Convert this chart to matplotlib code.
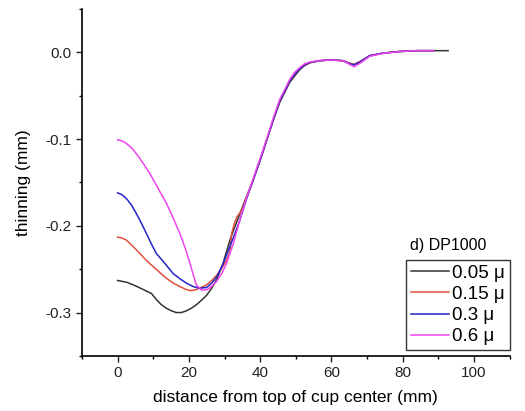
import matplotlib
matplotlib.use("Agg")
import matplotlib.pyplot as plt
from matplotlib.ticker import MultipleLocator

plt.rcParams['font.family'] = ['Liberation Sans', 'DejaVu Sans']

labels = ["0.05 μ", "0.15 μ", "0.3 μ", "0.6 μ"]
colors = ["#333333", "#e0503c", "#2424c8", "#ee44ee"]

x_005 = [0, 2.5, 4.4, 7, 9.5, 10.9, 12.3, 13.7, 15.1, 16.5, 17.9, 19.3, 20.7, 22.1, 23.5, 25, 26.4, 27.8, 29.6,
         31.5, 33, 34.3, 36, 38, 40, 41.8, 43.5, 45.5, 47, 48.3, 49.7, 51.1, 52.5, 54, 56.7, 58.5, 60.5, 63.3,
         64.7, 66.3, 68, 70.7, 74.5, 79, 83.8, 88.5, 92.7]
y_005 = [-0.263, -0.265, -0.268, -0.273, -0.278, -0.285, -0.291, -0.295, -0.298, -0.300, -0.300, -0.298, -0.295,
         -0.291, -0.286, -0.280, -0.272, -0.262, -0.243, -0.2165, -0.200, -0.186, -0.168, -0.1475, -0.124, -0.1015,
         -0.080, -0.0575, -0.045, -0.0345, -0.027, -0.020, -0.015, -0.012, -0.0096, -0.009, -0.0088, -0.0096,
         -0.012, -0.014, -0.0107, -0.0038, -0.0008, 0.001, 0.002, 0.002, 0.002]

x_015 = [0, 1.2, 2.5, 4.4, 6.3, 8.1, 10, 11.9, 13.7, 15.6, 17.5, 19, 20.3, 21.7, 23, 25, 26.4, 27.8, 29.2, 30.6,
         31.5, 32, 32.7, 33.4, 34.3, 35.3, 36, 38, 40, 41.8, 43.5, 45.5, 47, 48.3, 49.7, 51.1, 52.5, 54, 56.7,
         58.5, 60.5, 63.3, 64.7, 66.3, 68, 70.7, 74.5, 79, 83.8, 88.5]
y_015 = [-0.213, -0.214, -0.2165, -0.224, -0.232, -0.240, -0.247, -0.254, -0.2605, -0.266, -0.270, -0.273,
         -0.2747, -0.274, -0.272, -0.268, -0.263, -0.257, -0.249, -0.2395, -0.230, -0.209, -0.198, -0.190,
         -0.185, -0.178, -0.170, -0.1475, -0.124, -0.1015, -0.080, -0.0556, -0.044, -0.0326, -0.025, -0.019,
         -0.014, -0.0115, -0.0096, -0.009, -0.0088, -0.0096, -0.012, -0.014, -0.0107, -0.0038, -0.0008, 0.001,
         0.002, 0.002]

x_03 = [0, 1.2, 2.5, 3.9, 5.3, 6.7, 8.1, 9.5, 10.9, 12.8, 14.2, 15.6, 17.5, 19.3, 21.2, 23, 25, 26.4, 27.8, 29.6,
        31.5, 32.9, 34.3, 36, 38, 40, 41.8, 43.5, 45.5, 47, 48.3, 49.7, 51.1, 52.5, 54, 56.7, 58.5, 60.5, 63.3,
        64.7, 66.3, 68, 70.7, 74.5, 79, 83.8, 88.5]
y_03 = [-0.162, -0.164, -0.1686, -0.176, -0.186, -0.197, -0.209, -0.221, -0.232, -0.241, -0.248, -0.255, -0.261,
        -0.266, -0.270, -0.272, -0.271, -0.266, -0.259, -0.244, -0.224, -0.209, -0.1935, -0.171, -0.1475, -0.124,
        -0.1015, -0.080, -0.0556, -0.044, -0.0326, -0.025, -0.019, -0.014, -0.0115, -0.0096, -0.009, -0.0088,
        -0.0096, -0.0125, -0.0145, -0.011, -0.0038, -0.0008, 0.001, 0.002, 0.002]

x_06 = [0, 1.2, 2.5, 3.9, 5.3, 7.2, 9.1, 11.4, 13.7, 15.6, 17.5, 19, 20.3, 21.2, 22.1, 23, 23.6, 24.5, 25.4, 26.6,
        27.8, 29.2, 30.6, 32.5, 34.3, 36, 38, 40, 41.8, 43.5, 45.5, 47, 48.3, 49.7, 51.1, 52.5, 54, 56.7, 58.5,
        60.5, 63.3, 64.7, 66.3, 68, 70.7, 74.5, 79, 83.8, 88.5]
y_06 = [-0.1008, -0.102, -0.105, -0.110, -0.117, -0.128, -0.140, -0.157, -0.174, -0.191, -0.209, -0.226, -0.243,
        -0.256, -0.268, -0.272, -0.274, -0.274, -0.273, -0.269, -0.264, -0.255, -0.243, -0.220, -0.193, -0.170,
        -0.146, -0.122, -0.100, -0.078, -0.054, -0.042, -0.031, -0.023, -0.0175, -0.013, -0.0112, -0.0094,
        -0.009, -0.0088, -0.0098, -0.013, -0.0165, -0.0125, -0.0045, -0.001, 0.001, 0.002, 0.002]

series_x = [x_005, x_015, x_03, x_06]
series_y = [y_005, y_015, y_03, y_06]

fig = plt.figure(figsize=(5.25, 4.11), dpi=100)
ax = fig.add_axes([0.156, 0.134, 0.815, 0.844])

for xs, ys, c, lab in zip(series_x, series_y, colors, labels):
    ax.plot(xs, ys, color=c, lw=1.1, label=lab)

ax.set_xlim(-10, 110)
ax.set_ylim(-0.35, 0.05)
ax.xaxis.set_major_locator(MultipleLocator(20))
ax.xaxis.set_minor_locator(MultipleLocator(10))
ax.yaxis.set_major_locator(MultipleLocator(0.1))
ax.yaxis.set_minor_locator(MultipleLocator(0.05))
ax.yaxis.set_major_formatter(matplotlib.ticker.FuncFormatter(lambda v, p: f"{v:.1f}" if abs(v) > 1e-9 else "0.0"))
ax.tick_params(which='major', direction='out', length=4, width=1, labelsize=11, colors='#222222')
ax.tick_params(which='minor', direction='out', length=2.5, width=1)
for s in ['top', 'right']:
    ax.spines[s].set_visible(False)
for s in ['left', 'bottom']:
    ax.spines[s].set_linewidth(1.2)

ax.set_xlabel("distance from top of cup center (mm)", fontsize=12.5, labelpad=7)
ax.set_ylabel("thinning (mm)", fontsize=12.5, labelpad=10)

leg = ax.legend(loc='lower right', bbox_to_anchor=(1.0, 0.017), borderaxespad=0, fontsize=13.5,
                frameon=True, fancybox=False, edgecolor='black', handlelength=2.0, handletextpad=0.2,
                labelspacing=0.22, borderpad=0.25)
leg.get_frame().set_linewidth(1.0)
ax.text(0.766, 0.318, "d) DP1000", transform=ax.transAxes, fontsize=11.5, ha='left', va='center')

fig.savefig("out.png", dpi=100)
